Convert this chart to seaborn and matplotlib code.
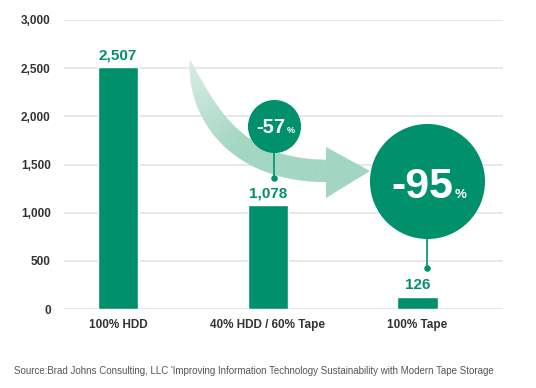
import numpy as np
import seaborn as sns
import matplotlib.pyplot as plt
from matplotlib.patches import Polygon

# data
categories = ['100% HDD', '40% HDD / 60% Tape', '100% Tape']
values = [2507, 1078, 126]
value_labels = ['2,507', '1,078', '126']
yticks = [0, 500, 1000, 1500, 2000, 2500, 3000]
ytick_labels = ['0', '500', '1,000', '1,500', '2,000', '2,500', '3,000']
pct_labels = ['-57', '-95']
source = "Source:Brad Johns Consulting, LLC 'Improving Information Technology Sustainability with Modern Tape Storage"

green = '#00906c'
W, H = 536, 388

sns.set_style('white')
plt.rcParams['font.family'] = ['Liberation Sans', 'DejaVu Sans']

fig = plt.figure(figsize=(W / 100, H / 100), dpi=100)
ax = fig.add_axes([64 / W, 1 - 309 / H, (503 - 64) / W, (309 - 20) / H])

sns.barplot(x=categories, y=values, color=green, width=0.27, saturation=1, ax=ax, zorder=2)
ax.set_xlim(-0.36, 2.57)
ax.set_ylim(0, 3000)
ax.set_yticks(yticks, ytick_labels)
ax.grid(axis='y', color='#e6e6e6', lw=1.3, zorder=0)
ax.set_axisbelow(True)
for s in ax.spines.values():
    s.set_visible(False)
ax.tick_params(axis='both', length=0)
ax.tick_params(axis='y', pad=9.5, labelsize=8.5, labelcolor='#333333')
ax.tick_params(axis='x', pad=7, labelsize=8.5, labelcolor='#333333')
for t in ax.get_xticklabels() + ax.get_yticklabels():
    t.set_fontweight('bold')
ax.set_xlabel('')
ax.set_ylabel('')

# value labels above bars
for i, (v, lab) in enumerate(zip(values, value_labels)):
    ax.annotate(lab, (i, v), xytext=(0, 8), textcoords='offset pixels',
                ha='center', va='baseline', fontsize=11, fontweight='bold', color=green)

# curved arrow (figure pixel coords)
def px(x, y):
    return (x / W, 1 - y / H)

P0, P1, P2 = np.array([190, 60]), np.array([215, 170]), np.array([327, 171])
ts = np.linspace(0, 1, 60)
def bez(t):
    return (1 - t) ** 2 * P0 + 2 * (1 - t) * t * P1 + t ** 2 * P2
def dbez(t):
    return 2 * (1 - t) * (P1 - P0) + 2 * t * (P2 - P1)
c0 = np.array([0.84, 0.93, 0.89])
c1 = np.array([0.64, 0.84, 0.76])
for a, b in zip(ts[:-1], ts[1:]):
    pts = []
    for t, sgn in [(a, 1), (b, 1), (b, -1), (a, -1)]:
        d = dbez(t)
        n = np.array([d[1], -d[0]]) / np.hypot(*d)
        w = 11 * (1 - (1 - t) ** 6)
        pts.append(px(*(bez(t) + sgn * n * w)))
    f = min(1, ((a + b) / 2) / 0.5)
    col = c0 + (c1 - c0) * f
    ax.add_patch(Polygon(pts, closed=True, transform=fig.transFigure, clip_on=False,
                         facecolor=col, edgecolor=col, lw=0.3, zorder=3))
ax.add_patch(Polygon([px(326, 147), px(370, 171), px(326, 198)], closed=True, clip_on=False,
                     transform=fig.transFigure, facecolor=c1, edgecolor='none', zorder=3))

# percent bubbles
bubbles = [
    dict(x=1.04, dot=1360, cy=1900, s=1460, fs=14.5, ps=6.5, dx=11.5, dy=-7),
    dict(x=2.065, dot=426, cy=1324, s=6860, fs=31, ps=9.5, dx=26.5, dy=-16.5),
]
for b, lab in zip(bubbles, pct_labels):
    ax.plot([b['x'], b['x']], [b['dot'], b['cy']], color=green, lw=1.2, zorder=4)
    ax.scatter([b['x']], [b['dot']], s=22, color=green, zorder=4, linewidths=0)
    ax.scatter([b['x']], [b['cy']], s=b['s'], color=green, zorder=5, linewidths=0)
    ax.annotate(lab, (b['x'], b['cy']), xytext=(b['dx'], b['dy']), textcoords='offset pixels',
                ha='right', va='baseline', fontsize=b['fs'], fontweight='bold', color='white', zorder=6)
    ax.annotate('%', (b['x'], b['cy']), xytext=(b['dx'] + 1, b['dy']), textcoords='offset pixels',
                ha='left', va='baseline', fontsize=b['ps'], fontweight='bold', color='white', zorder=6)

fig.text(14 / W, 1 - 371 / H, source, fontsize=7, color='#555555', va='center', ha='left')

fig.savefig('out.png', dpi=100, facecolor='white')
